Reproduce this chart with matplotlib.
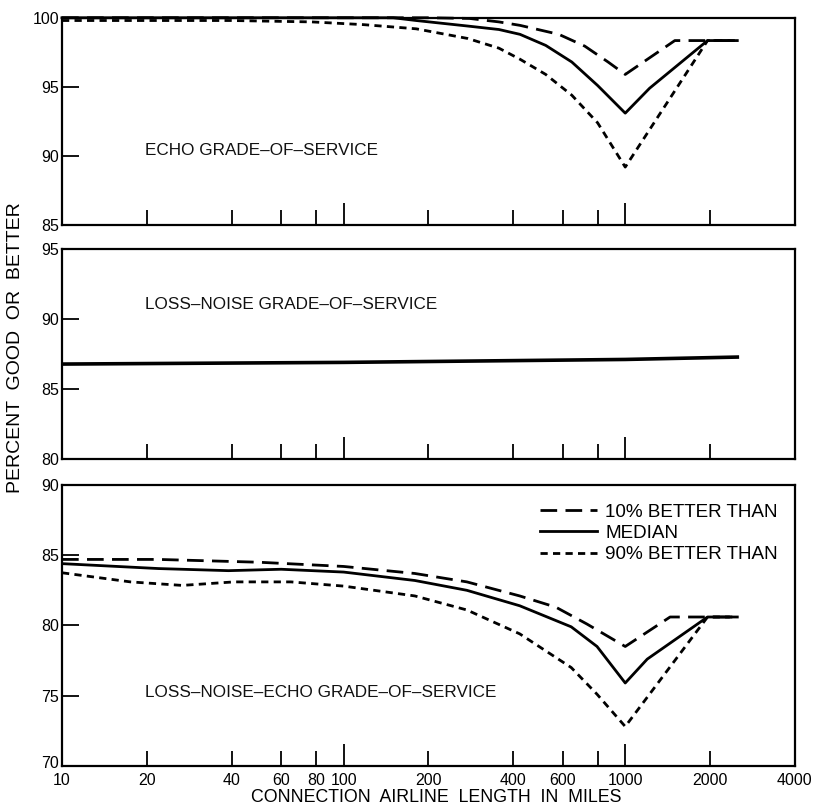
import matplotlib
matplotlib.use('Agg')
import matplotlib.pyplot as plt
import matplotlib.transforms as mtransforms

plt.rcParams['font.family'] = ['Liberation Sans', 'DejaVu Sans']

# airline length (miles) and percent good-or-better, per panel
echo_x_10 = [10, 200, 280, 356, 423, 581, 718, 869, 1000, 1500, 2500]
echo_y_10 = [100, 100, 99.95, 99.7, 99.45, 98.8, 97.95, 96.8, 95.9, 98.35, 98.35]
echo_x_med = [10, 150, 181, 276, 356, 423, 522, 646, 798, 1000, 1220, 1960, 2500]
echo_y_med = [100, 100, 99.8, 99.4, 99.15, 98.8, 98.0, 96.8, 95.1, 93.1, 94.9, 98.35, 98.35]
echo_x_90 = [10, 40, 77, 118, 181, 276, 356, 423, 522, 646, 798, 1000, 1960, 2500]
echo_y_90 = [99.8, 99.8, 99.7, 99.5, 99.2, 98.5, 97.8, 97.0, 95.9, 94.4, 92.4, 89.2, 98.35, 98.35]

ln_x = [10, 100, 1000, 2500]
ln_y = [86.8, 86.92, 87.13, 87.3]

lne_x_10 = [10, 22, 50, 100, 179, 274, 422, 567, 731, 1000, 1443, 2500]
lne_y_10 = [84.7, 84.7, 84.5, 84.2, 83.7, 83.1, 82.1, 81.3, 80.1, 78.5, 80.6, 80.6]
lne_x_med = [10, 22, 39, 60, 100, 179, 274, 422, 643, 794, 1000, 1197, 1960, 2500]
lne_y_med = [84.4, 84.05, 83.9, 84.0, 83.8, 83.2, 82.5, 81.4, 79.9, 78.5, 75.9, 77.6, 80.6, 80.6]
lne_x_90 = [10, 17.5, 26.7, 40.8, 65, 100, 179, 274, 422, 643, 794, 1000, 1960, 2500]
lne_y_90 = [83.75, 83.1, 82.85, 83.1, 83.1, 82.8, 82.1, 81.1, 79.4, 77.0, 75.1, 72.8, 80.6, 80.6]

x_marks = [20, 40, 60, 80, 100, 200, 400, 600, 800, 1000, 2000]
x_mark_labels = ['20', '40', '60', '80', '100', '200', '400', '600', '', '1000', '2000']
x_end_ticks = [10, 4000]
long_marks = [100, 1000]

LONG = (0, (6, 3))
SHORT = (0, (2.6, 1.9))
LW = 2.0

fig = plt.figure(figsize=(8.16, 8.07), dpi=100)
ax1 = fig.add_axes([0.076, 0.721, 0.898, 0.257])
ax2 = fig.add_axes([0.076, 0.431, 0.898, 0.260])
ax3 = fig.add_axes([0.076, 0.051, 0.898, 0.348])


def style(ax, ylim, yticks, show_labels):
    ax.set_xscale('log')
    ax.set_xlim(10, 4000)
    ax.set_ylim(*ylim)
    ax.set_yticks(yticks)
    ax.set_xticks(x_marks)
    ax.set_xticks(x_end_ticks, minor=True)
    if show_labels:
        ax.set_xticklabels(x_mark_labels)
        ax.set_xticklabels(['10', '4000'], minor=True)
    else:
        ax.set_xticklabels([])
        ax.set_xticklabels([], minor=True)
    ax.tick_params(axis='x', which='major', direction='in', length=11,
                   width=1.3, labelsize=11.5, pad=5)
    ax.tick_params(axis='x', which='minor', direction='in', length=0,
                   labelsize=11.5, pad=5)
    ax.tick_params(axis='y', direction='in', length=12, width=1.3,
                   labelsize=11.5, pad=2)
    for t, v in zip(ax.xaxis.get_major_ticks(), x_marks):
        if v in long_marks:
            t.tick1line.set_markersize(16)
    for s in ax.spines.values():
        s.set_linewidth(1.6)
    for lab in ax.get_xticklabels(which='both') + ax.get_yticklabels():
        lab.set_family(['Liberation Sans Narrow', 'Liberation Sans'])


style(ax1, (85, 100), [85, 90, 95, 100], False)
style(ax2, (80, 95), [80, 85, 90, 95], False)
style(ax3, (70, 90), [70, 75, 80, 85, 90], True)

# lift the lowest y label a little so it clears the "10" below it
lift = mtransforms.ScaledTranslation(0, 4 / 100, fig.dpi_scale_trans)
low = ax3.yaxis.get_major_ticks()[0].label1
low.set_transform(low.get_transform() + lift)

ax1.plot(echo_x_10, echo_y_10, color='black', lw=LW, ls=LONG, clip_on=False)
ax1.plot(echo_x_med, echo_y_med, color='black', lw=LW, ls='-', clip_on=False)
ax1.plot(echo_x_90, echo_y_90, color='black', lw=LW, ls=SHORT, clip_on=False)

ax2.plot(ln_x, ln_y, color='black', lw=2.6, ls='-')

ax3.plot(lne_x_10, lne_y_10, color='black', lw=LW, ls=LONG, label='10% BETTER THAN')
ax3.plot(lne_x_med, lne_y_med, color='black', lw=LW, ls='-', label='MEDIAN')
ax3.plot(lne_x_90, lne_y_90, color='black', lw=LW, ls=SHORT, label='90% BETTER THAN')

txt = dict(fontsize=12.3, color='#111111', va='center', ha='left')
ax1.text(0.113, 0.36, 'ECHO GRADE\u2013OF\u2013SERVICE', transform=ax1.transAxes, **txt)
ax2.text(0.113, 0.735, 'LOSS\u2013NOISE GRADE\u2013OF\u2013SERVICE', transform=ax2.transAxes, **txt)
ax3.text(0.113, 0.26, 'LOSS\u2013NOISE\u2013ECHO GRADE\u2013OF\u2013SERVICE', transform=ax3.transAxes, **txt)

ax3.legend(loc='upper right', bbox_to_anchor=(1.0, 0.995), frameon=False,
           fontsize=13.6, handlelength=3.0, handletextpad=0.45,
           labelspacing=0.22, borderaxespad=0.5)

fig.text(0.019, 0.569, 'PERCENT  GOOD  OR  BETTER', rotation=90,
         ha='center', va='center', fontsize=14)
fig.text(0.535, 0.001, 'CONNECTION  AIRLINE  LENGTH  IN  MILES',
         ha='center', va='bottom', fontsize=12.8)

fig.savefig('out.png', dpi=100)
